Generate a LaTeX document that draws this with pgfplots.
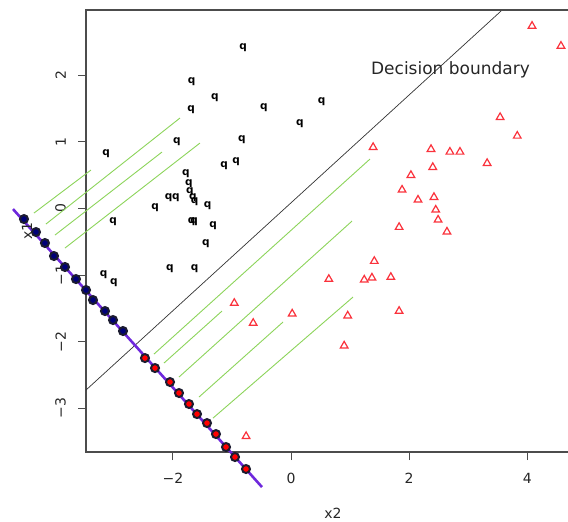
\documentclass[border=0pt]{standalone}
\usepackage{pgfplots}
\pgfplotsset{compat=1.18}
\usepackage{fontspec}
\setmainfont{DejaVu Sans}
\definecolor{projline}{RGB}{110,40,220}
\definecolor{greenl}{RGB}{140,212,90}
\definecolor{dotedge}{RGB}{28,28,48}
\definecolor{dotblue}{RGB}{0,0,120}
\definecolor{trired}{RGB}{250,50,60}
\begin{document}
\begin{tikzpicture}
\begin{axis}[
  scale only axis, width=482pt, height=442pt,
  xmin=-3.470, xmax=4.689, ymin=-3.656, ymax=2.980,
  axis line style={draw=none},
  clip=false,
  xtick={-2,0,2,4}, xticklabels={−2,0,2,4},
  ytick={-3,-2,-1,0,1,2}, yticklabels={−3,−2,−1,0,1,2},
  xtick pos=left, ytick pos=left,
  tick align=outside, major tick length=8pt,
  tick style={black!70, line width=0.9pt},
  tick label style={font=\fontsize{14}{16}\selectfont, text=black!85},
  xticklabel style={anchor=north, inner sep=0pt, yshift=-13pt},
  yticklabel style={xshift=-12pt, rotate=90, anchor=south, inner sep=0pt},
  xlabel={x2}, ylabel={x1},
  label style={font=\fontsize{14}{16}\selectfont, text=black!85},
  xlabel style={at={(rel axis cs:0.5124,0)}, anchor=center, yshift=-61pt},
  ylabel style={at={(rel axis cs:0,0.5)}, anchor=center, yshift=59pt},
]
% frame (left, top, bottom)
\draw[black!70, line width=1.1pt] (rel axis cs:1,1) -- (rel axis cs:0,1) -- (rel axis cs:0,0) -- (rel axis cs:1,0);
% decision boundary
\addplot[black!80, line width=0.7pt] coordinates {(-3.470,-2.725) (3.555,2.965)};
% green lines
\addplot[greenl, line width=0.9pt] coordinates {(-2.319,-2.185) (1.337,0.743)};
\addplot[greenl, line width=0.9pt] coordinates {(-2.150,-2.320) (-1.168,-1.539)};
\addplot[greenl, line width=0.9pt] coordinates {(-1.896,-2.530) (1.033,-0.188)};
\addplot[greenl, line width=0.9pt] coordinates {(-1.557,-2.830) (-0.135,-1.704)};
\addplot[greenl, line width=0.9pt] coordinates {(-1.320,-3.146) (1.050,-1.329)};
\addplot[greenl, line width=0.9pt] coordinates {(-4.351,-0.068) (-3.386,0.578)};
\addplot[greenl, line width=0.9pt] coordinates {(-4.148,-0.233) (-1.879,1.359)};
\addplot[greenl, line width=0.9pt] coordinates {(-3.995,-0.398) (-2.184,0.848)};
\addplot[greenl, line width=0.9pt] coordinates {(-3.826,-0.593) (-1.541,0.983)};
% class q
\addplot[only marks, mark=text, text mark={q}, text mark as node=true, text mark style={font=\bfseries\fontsize{10.5}{10.5}\selectfont, text=black, anchor=center, inner sep=0pt}] table {
x y
-0.81 2.41
-1.68 1.91
-1.29 1.66
-1.69 1.48
-0.46 1.51
0.52 1.61
0.15 1.28
-1.93 1.01
-0.83 1.04
-3.13 0.83
-1.13 0.64
-0.93 0.70
-1.78 0.53
-1.73 0.37
-1.71 0.25
-1.66 0.16
-1.63 0.11
-2.07 0.16
-1.95 0.16
-1.41 0.05
-2.30 0.02
-1.68 -0.19
-1.64 -0.19
-1.32 -0.26
-3.01 -0.20
-1.44 -0.52
-3.17 -1.00
-3.00 -1.12
-2.05 -0.91
-1.63 -0.91
};
% class triangles
\addplot[only marks, mark=triangle, mark size=4.4pt, mark options={draw=trired, line width=1.2pt}] table {
x y
4.08 2.74
4.57 2.44
3.54 1.37
3.83 1.09
1.39 0.92
2.37 0.89
2.69 0.85
2.86 0.85
3.32 0.68
2.40 0.62
2.03 0.50
1.88 0.28
2.15 0.13
2.42 0.17
2.45 -0.02
2.49 -0.17
1.83 -0.28
2.64 -0.35
1.41 -0.79
0.64 -1.06
1.24 -1.07
1.37 -1.04
1.69 -1.03
1.83 -1.54
0.96 -1.61
0.90 -2.06
-0.96 -1.42
-0.64 -1.72
0.02 -1.58
-0.76 -3.42
};
% projection line
\addplot[projline, line width=2.6pt] coordinates {(-4.706,-0.008) (-0.491,-4.182)};
% projected points
\addplot[only marks, mark=*, mark size=4pt, mark options={fill=dotblue, draw=dotedge, line width=2pt}] table {
x y
-4.520 -0.158
-4.317 -0.353
-4.165 -0.518
-4.012 -0.713
-3.826 -0.878
-3.640 -1.059
-3.470 -1.224
-3.352 -1.374
-3.149 -1.539
-3.013 -1.674
-2.844 -1.839
};
\addplot[only marks, mark=*, mark size=4pt, mark options={fill=red, draw=dotedge, line width=2pt}] table {
x y
-2.472 -2.245
-2.302 -2.395
-2.048 -2.605
-1.896 -2.770
-1.727 -2.935
-1.591 -3.086
-1.422 -3.221
-1.270 -3.386
-1.100 -3.581
-0.948 -3.731
-0.762 -3.911
};
\node[anchor=base, font=\fontsize{17}{20}\selectfont, text=black!85] at (axis cs:2.700,2.005) {Decision boundary};
\coordinate (bbSW) at (axis cs:-4.926,-4.692);
\coordinate (bbNE) at (axis cs:4.689,3.131);
\end{axis}
\pgfresetboundingbox
\useasboundingbox (bbSW) rectangle (bbNE);
\end{tikzpicture}
\end{document}
